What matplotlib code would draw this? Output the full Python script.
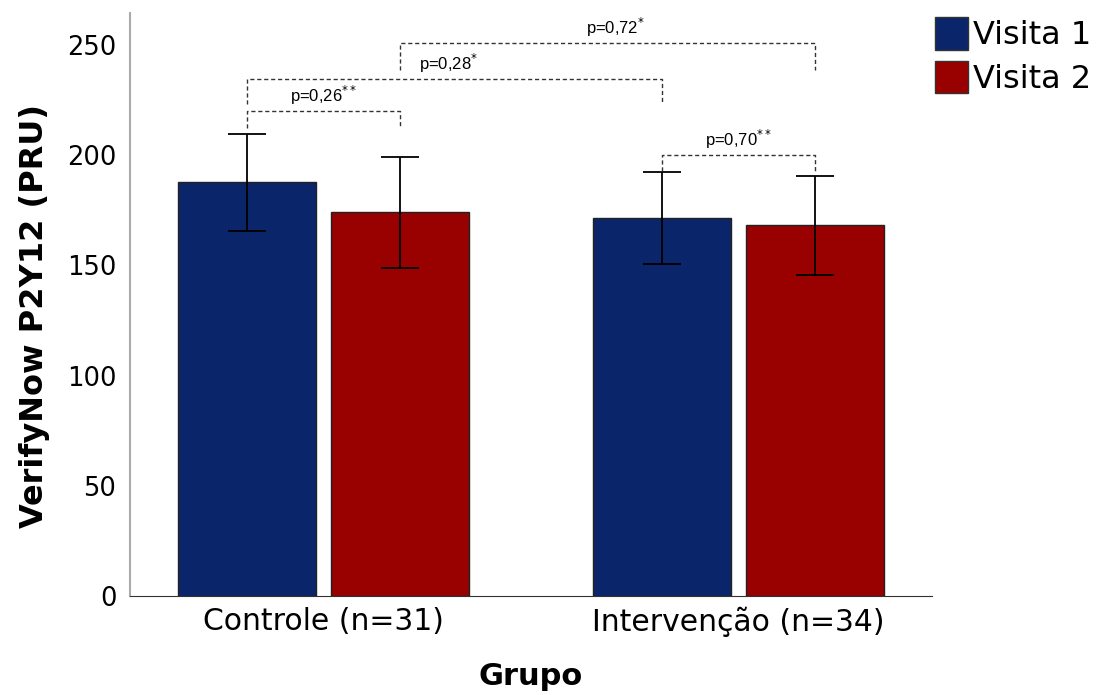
import numpy as np
import matplotlib
matplotlib.use("Agg")
from matplotlib import pyplot as plt
from matplotlib.patches import Patch

# mean PRU per group and visit, with 95% CI half-widths
groups = ["Controle (n=31)", "Intervenção (n=34)"]
visits = ["Visita 1", "Visita 2"]
means_v1 = [187.8, 171.4]
means_v2 = [174.0, 168.2]
ci_v1 = [22.0, 21.0]
ci_v2 = [25.0, 22.5]

# comparisons: (bar a, bar b, bracket height, leg bottom, label x, label)
# bars: 0 Controle V1, 1 Controle V2, 2 Intervenção V1, 3 Intervenção V2
comparisons = [
    (0, 1, 220.0, 212.5, 0.0, "p=0,26$^{**}$"),
    (0, 2, 234.5, 223.0, 0.30, "p=0,28$^{*}$"),
    (1, 3, 250.8, 238.5, 0.705, "p=0,72$^{*}$"),
    (2, 3, 200.0, 193.0, 1.0, "p=0,70$^{**}$"),
]

blue = "#0b256b"
red = "#990000"

fig = plt.figure(figsize=(11.03, 6.95), dpi=100)
ax = fig.add_axes([0.118, 0.1424, 0.727, 0.8386])

x = np.arange(len(groups))
width = 0.333
gap = 0.036
off = (width + gap) / 2
x1 = x - off
x2 = x + off

ax.bar(x1, means_v1, width, color=blue, edgecolor="#222222", linewidth=1)
ax.bar(x2, means_v2, width, color=red, edgecolor="#222222", linewidth=1)
ax.errorbar(x1, means_v1, yerr=ci_v1, fmt="none", ecolor="black",
            elinewidth=1.3, capsize=14, capthick=1.3)
ax.errorbar(x2, means_v2, yerr=ci_v2, fmt="none", ecolor="black",
            elinewidth=1.3, capsize=14, capthick=1.3)

centers = [x1[0], x2[0], x1[1], x2[1]]
for a, b, top, leg, tx, txt in comparisons:
    xa, xb = centers[a], centers[b]
    ax.plot([xa, xa, xb, xb], [leg, top, top, leg], color="#333333",
            linestyle=(0, (3, 2)), linewidth=1)
    ax.text(tx, top + 2, txt, ha="center", va="bottom", fontsize=12,
            family="Liberation Sans")

ax.set_xlim(-0.467, 1.468)
ax.set_ylim(0, 264.4)
ax.set_xticks(x)
ax.set_xticklabels(groups, fontsize=21.5)
ax.set_yticks([0, 50, 100, 150, 200, 250])
ax.tick_params(axis="y", labelsize=18.5, length=0, pad=10)
ax.tick_params(axis="x", length=0, pad=8)

ax.spines["top"].set_visible(False)
ax.spines["right"].set_visible(False)
ax.spines["left"].set_color("#aaaaaa")
ax.spines["left"].set_linewidth(1.5)
ax.spines["bottom"].set_color("#333333")

ax.set_ylabel("VerifyNow P2Y12 (PRU)", fontsize=23, fontweight="bold")
ax.yaxis.set_label_coords(-0.1, 0.48)
ax.set_xlabel("Grupo", fontsize=22, fontweight="bold", labelpad=18)

handles = [Patch(facecolor=blue, edgecolor="#333333"),
           Patch(facecolor=red, edgecolor="#333333")]
fig.legend(handles, visits, loc="upper left", bbox_to_anchor=(935 / 1103, 1 - 17 / 695),
           frameon=False, fontsize=23, handlelength=1.03, handleheight=1.2,
           handletextpad=0.15, labelspacing=0.3, borderpad=0, borderaxespad=0)

fig.savefig("out.png", dpi=100)
